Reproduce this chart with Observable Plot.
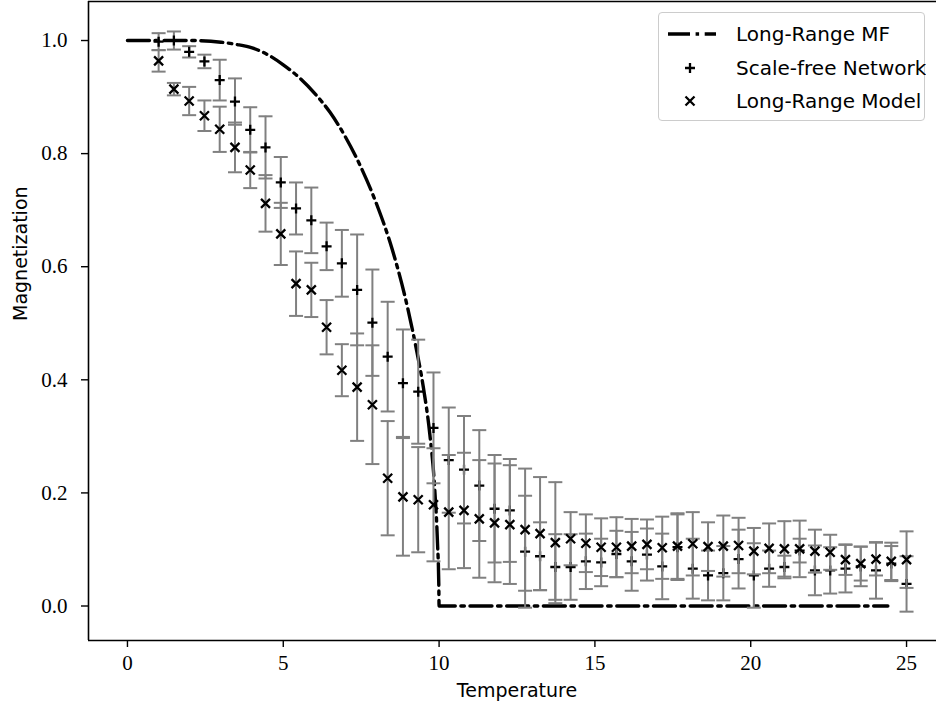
<!DOCTYPE html>
<html><head><meta charset="utf-8">
<script src="https://cdn.jsdelivr.net/npm/d3@7"></script>
<script src="https://cdn.jsdelivr.net/npm/@observablehq/plot@0.6"></script>
<style>
body{margin:0;background:#fff;}
#wrap{position:relative;width:936px;height:712px;overflow:hidden;}
#legend{position:absolute;left:658px;top:12px;width:267px;height:109px;box-sizing:border-box;border:1.3px solid #cccccc;border-radius:4px;background:rgba(255,255,255,0.8);}
#legend svg{position:absolute;left:0;top:0;}
</style></head>
<body><div id="wrap"><div id="legend"></div></div>
<script>
const temps = [1.00,1.49,1.98,2.47,2.96,3.45,3.94,4.43,4.92,5.41,5.90,6.39,6.88,7.37,7.86,8.35,8.84,9.33,9.82,10.31,10.80,11.29,11.78,12.27,12.76,13.24,13.73,14.22,14.71,15.20,15.69,16.18,16.67,17.16,17.65,18.14,18.63,19.12,19.61,20.10,20.59,21.08,21.57,22.06,22.55,23.04,23.53,24.02,24.51,25.00];
const sfMag = [0.998,1.000,0.980,0.963,0.930,0.892,0.842,0.811,0.749,0.703,0.682,0.636,0.606,0.559,0.501,0.441,0.394,0.379,0.315,0.258,0.241,0.213,0.172,0.169,0.096,0.088,0.069,0.069,0.079,0.077,0.092,0.079,0.091,0.070,0.104,0.066,0.054,0.058,0.083,0.054,0.066,0.069,0.098,0.063,0.063,0.066,0.070,0.063,0.075,0.039];
const sfErr = [0.015,0.016,0.010,0.012,0.036,0.041,0.040,0.055,0.045,0.046,0.058,0.042,0.059,0.098,0.094,0.097,0.095,0.092,0.098,0.093,0.095,0.098,0.095,0.091,0.099,0.060,0.058,0.058,0.049,0.042,0.041,0.052,0.046,0.058,0.058,0.053,0.044,0.048,0.052,0.057,0.032,0.020,0.021,0.044,0.041,0.042,0.035,0.050,0.031,0.049];
const lrMag = [0.964,0.914,0.893,0.867,0.843,0.811,0.771,0.712,0.658,0.570,0.559,0.493,0.417,0.387,0.356,0.226,0.193,0.188,0.179,0.166,0.169,0.154,0.147,0.144,0.135,0.128,0.112,0.119,0.111,0.104,0.104,0.106,0.109,0.103,0.106,0.110,0.105,0.106,0.107,0.097,0.102,0.101,0.101,0.097,0.095,0.082,0.075,0.083,0.079,0.082];
const lrErr = [0.019,0.011,0.025,0.027,0.040,0.044,0.032,0.050,0.055,0.057,0.048,0.048,0.046,0.095,0.105,0.101,0.104,0.093,0.100,0.101,0.102,0.104,0.105,0.105,0.108,0.100,0.107,0.047,0.051,0.051,0.053,0.048,0.044,0.055,0.058,0.056,0.043,0.054,0.049,0.041,0.044,0.049,0.050,0.038,0.031,0.027,0.030,0.029,0.033,0.050];
const mfTemp = [0,1,2,3,3.5,4,4.5,5,5.5,6,6.5,7,7.5,8,8.5,9,9.25,9.5,9.7,9.85,9.95,9.99,10,24.4];
const mfMag = [1.0,1.0,1.0,0.997,0.993,0.987,0.975,0.957,0.935,0.907,0.873,0.829,0.775,0.71,0.63,0.525,0.46,0.385,0.305,0.215,0.11,0.04,0.0,0.0];
const xTicks = [0,5,10,15,20,25];
const yTicks = [0.0,0.2,0.4,0.6,0.8,1.0];
const seriesNames = ["Long-Range MF","Scale-free Network","Long-Range Model"];
const xLabel = "Temperature";
const yLabel = "Magnetization";

const sf = temps.map((t,i)=>({t, m: sfMag[i], lo: sfMag[i]-sfErr[i], hi: sfMag[i]+sfErr[i]}));
const lr = temps.map((t,i)=>({t, m: lrMag[i], lo: lrMag[i]-lrErr[i], hi: lrMag[i]+lrErr[i]}));
const mf = mfTemp.map((t,i)=>({t, m: mfMag[i]}));

const capSym = {draw(ctx){ ctx.moveTo(-7,0); ctx.lineTo(7,0); }};
const plusSym = {draw(ctx){ ctx.moveTo(-5,0); ctx.lineTo(5,0); ctx.moveTo(0,-5); ctx.lineTo(0,5); }};
const timesSym = {draw(ctx){ ctx.moveTo(-4.5,-4.5); ctx.lineTo(4.5,4.5); ctx.moveTo(-4.5,4.5); ctx.lineTo(4.5,-4.5); }};

const gray = "#808080";
function errMarks(data){
  return [
    Plot.ruleX(data, {x:"t", y1:"lo", y2:"hi", stroke: gray, strokeWidth: 2}),
    Plot.dot(data, {x:"t", y:"hi", symbol: capSym, stroke: gray, strokeWidth: 2, r: 3}),
    Plot.dot(data, {x:"t", y:"lo", symbol: capSym, stroke: gray, strokeWidth: 2, r: 3})
  ];
}

const xDom = [-1.25, 26.25], yDom = [-0.061, 1.069];
const chart = Plot.plot({
  width: 936, height: 712,
  marginLeft: 88, marginRight: -9, marginTop: 1, marginBottom: 72,
  style: {fontFamily: "'Liberation Serif', serif", fontSize: "21px", background: "white", overflow: "hidden"},
  x: {domain: xDom, range: [88, 945]},
  y: {domain: yDom, range: [640, 1]},
  marks: [
    Plot.line(mf, {x:"t", y:"m", stroke:"black", strokeWidth: 3.4, strokeDasharray: "22,5.6,3.5,5.6", curve: "monotone-x"}),
    ...errMarks(sf),
    Plot.dot(sf, {x:"t", y:"m", symbol: plusSym, stroke:"black", strokeWidth: 2.3, r: 3}),
    ...errMarks(lr),
    Plot.dot(lr, {x:"t", y:"m", symbol: timesSym, stroke:"black", strokeWidth: 2.3, r: 3}),
    Plot.ruleX([xDom[0], xDom[1]], {stroke:"black", strokeWidth: 1.6}),
    Plot.ruleY([yDom[0], yDom[1]], {stroke:"black", strokeWidth: 1.6}),
    Plot.axisX(xTicks, {tickSize: 7, tickPadding: 8, strokeWidth: 1.4, tickFormat: d=>String(d), label: null, fontSize: 21}),
    Plot.axisY(yTicks, {tickSize: 7, tickPadding: 14, strokeWidth: 1.4, tickFormat: d=>d.toFixed(1), label: null, fontSize: 21}),
    Plot.text([xLabel], {frameAnchor: "bottom", dy: 50, lineAnchor: "middle", fontFamily: "'DejaVu Sans', sans-serif", fontSize: 19, fill: "black"}),
    Plot.text([yLabel], {frameAnchor: "left", dx: -68, rotate: -90, lineAnchor: "middle", fontFamily: "'DejaVu Sans', sans-serif", fontSize: 19, fill: "black"})
  ]
});
document.getElementById("wrap").prepend(chart);

// legend
const lg = d3.select("#legend").append("svg").attr("width", 267).attr("height", 109)
  .style("font-family", "'DejaVu Sans', sans-serif").style("font-size", "20px");
const rows = [21, 55, 88];
lg.append("line").attr("x1", 9).attr("x2", 57).attr("y1", rows[0]).attr("y2", rows[0])
  .attr("stroke","black").attr("stroke-width",3.4).attr("stroke-dasharray","22,5.6,3.5,5.6");
lg.append("path").attr("d","M26,"+rows[1]+"h10M31,"+(rows[1]-5)+"v10").attr("stroke","black").attr("stroke-width",2.3);
lg.append("path").attr("d","M26.5,"+(rows[2]-4.5)+"l9,9M26.5,"+(rows[2]+4.5)+"l9,-9").attr("stroke","black").attr("stroke-width",2.3);
seriesNames.forEach((s,i)=>{
  lg.append("text").attr("x", 77).attr("y", rows[i]).attr("dy","0.35em").text(s);
});
</script>
</body></html>
